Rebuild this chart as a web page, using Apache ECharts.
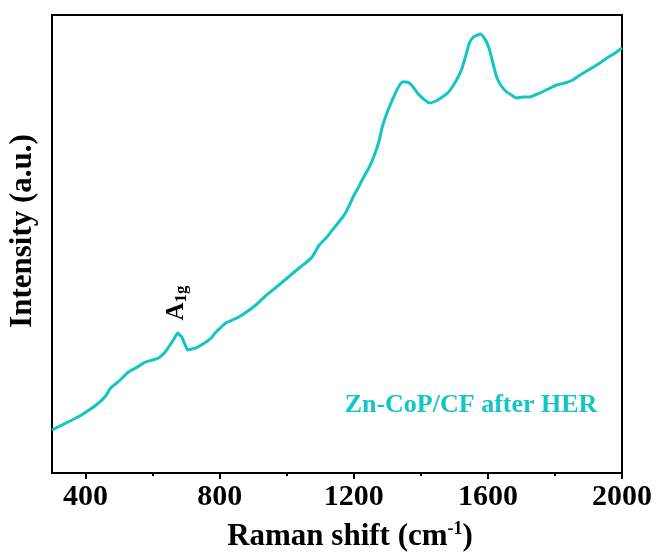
<!DOCTYPE html>
<html><head><meta charset="utf-8">
<script src="https://cdn.jsdelivr.net/npm/echarts@6/dist/echarts.min.js"></script>
<style>html,body{margin:0;padding:0;background:#fff}#c{width:657px;height:558px}</style>
</head><body><div id="c"></div>
<script>
const ramanShift = [300,330,360,388,415,439,460,475,500,528,555,579,600,618,635,648,662,675,681,687,696,705,717,729,745,759,775,789,805,818,838,857,880,908,940,977,1005,1037,1060,1076,1097,1120,1148,1165,1177,1190,1201,1213,1225,1240,1252,1267,1277,1285,1300,1315,1330,1345,1358,1372,1390,1408,1426,1445,1464,1480,1494,1508,1521,1533,1545,1557,1569,1578,1587,1596,1605,1615,1626,1640,1656,1670,1686,1705,1725,1740,1755,1780,1805,1830,1853,1875,1895,1915,1934,1955,1975,2000];
const intensity  = [43,48,53,58,64,70,77,85,92,101,106,111,113,115,120,126,133,140,138,136,129,123,124,125,128,131,135,141,146,150,153,156,161,168,178,188,196,205,211,216,228,236,248,255,261,270,278,285,293,302,310,323,334,346,361,373,384,391,391,388,380,374,370,372,376,380,386,394,403,416,430,436,438,439,436,431,423,410,396,387,381,378,375,376,376,378,380,384,388,390,393,398,402,406,410,415,419,425];
const majorTicks = [400,800,1200,1600,2000];
const minorTicks = [600,1000,1400,1800];
const seriesLabel = 'Zn-CoP/CF after HER';
const peakLabel = 'A';
const peakSub = '1g';

const cyan = '#14c6c2';
const serif = 'Liberation Serif';
const chart = echarts.init(document.getElementById('c'));
const data = ramanShift.map((x,i)=>[x,intensity[i]]);
chart.setOption({
  animation:false,
  backgroundColor:'#fff',
  grid:{left:52,right:35,top:15,bottom:85,show:true,borderColor:'#000',borderWidth:2,backgroundColor:'transparent'},
  xAxis:[{type:'value',min:300,max:2000,
    axisLine:{show:true,lineStyle:{color:'#000',width:2}},
    axisTick:{show:true,inside:false,length:6,lineStyle:{color:'#000',width:2},customValues:majorTicks},
    splitLine:{show:false},
    axisLabel:{margin:9,color:'#000',fontFamily:serif,fontWeight:'bold',fontSize:30,customValues:majorTicks,formatter:v=>String(v)}
  },{type:'value',min:300,max:2000,position:'bottom',
    axisLine:{show:false},
    axisTick:{show:true,inside:false,length:3,lineStyle:{color:'#000',width:2},customValues:minorTicks},
    splitLine:{show:false},
    axisLabel:{show:false}
  }],
  yAxis:{type:'value',min:0,max:458,show:true,axisLine:{show:true,lineStyle:{color:'#000',width:2}},axisTick:{show:false},axisLabel:{show:false},splitLine:{show:false}},
  series:[{type:'line',data:data,showSymbol:false,smooth:0.2,lineStyle:{color:cyan,width:3},itemStyle:{color:cyan}}],
  graphic:[
    {type:'text',x:350,y:537,style:{
      text:'{a|Raman shift (cm}{s|-1}{a|)}',align:'center',verticalAlign:'middle',
      rich:{a:{fontFamily:serif,fontWeight:'bold',fontSize:31,fill:'#000'},
            s:{fontFamily:serif,fontWeight:'bold',fontSize:18,fill:'#000',padding:[0,0,16,0]}}}},
    {type:'text',x:23,y:231,rotation:Math.PI/2,style:{
      text:'Intensity (a.u.)',align:'center',verticalAlign:'middle',
      fontFamily:serif,fontWeight:'bold',fontSize:31,fill:'#000'}},
    {type:'text',x:177,y:303,rotation:Math.PI/2,style:{
      text:'{a|'+peakLabel+'}{s|'+peakSub+'}',align:'center',verticalAlign:'middle',
      rich:{a:{fontFamily:serif,fontWeight:'bold',fontSize:25,fill:'#000'},
            s:{fontFamily:serif,fontWeight:'bold',fontSize:17,fill:'#000',padding:[10,0,0,0]}}}},
    {type:'text',x:471,y:405,style:{
      text:seriesLabel,align:'center',verticalAlign:'middle',
      fontFamily:serif,fontWeight:'bold',fontSize:26,fill:cyan}}
  ]
});
</script></body></html>
